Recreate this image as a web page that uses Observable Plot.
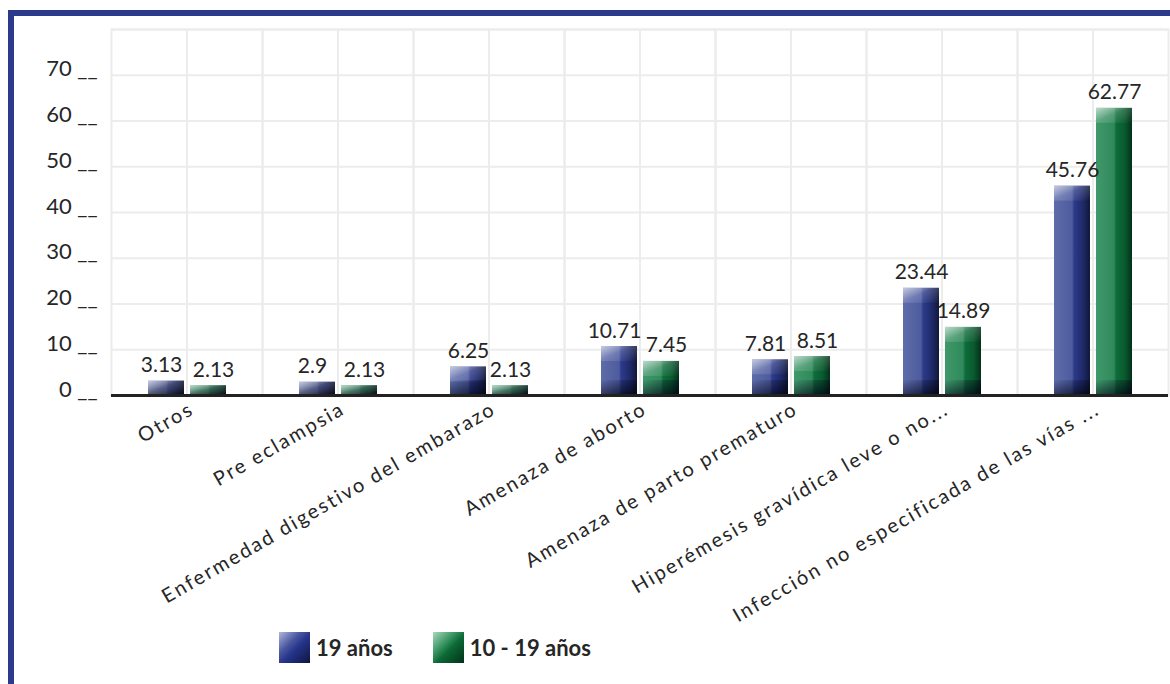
<!DOCTYPE html>
<html>
<head>
<meta charset="utf-8">
<script src="https://cdn.jsdelivr.net/npm/d3@7"></script>
<script src="https://cdn.jsdelivr.net/npm/@observablehq/plot@0.6"></script>
<style>
  html, body { margin: 0; padding: 0; background: #fff; }
  #page { position: relative; width: 1170px; height: 684px; overflow: hidden; background: #fff; font-family: Lato, sans-serif; }
  #frame { position: absolute; left: 8px; top: 10px; right: 0; bottom: 0; border-top: 6px solid #2c3a8c; border-left: 6px solid #2c3a8c; box-sizing: border-box; pointer-events: none; }
  #chart { position: absolute; left: 0; top: 0; }
  #legend { position: absolute; top: 632px; left: 279px; display: flex; align-items: center; font-family: Lato, sans-serif; font-weight: bold; font-size: 22px; color: #262626; }
  .sw { width: 31px; height: 31px; display: inline-block; margin-right: 6px; }
  .item { display: flex; align-items: center; margin-right: 40px; }
</style>
</head>
<body>
<div id="page">
  <div id="chart"></div>
  <div id="frame"></div>
  <div id="legend"></div>
</div>
<script>
const categories = [
  "Otros",
  "Pre eclampsia",
  "Enfermedad digestivo del embarazo",
  "Amenaza de aborto",
  "Amenaza de parto prematuro",
  "Hiperémesis gravídica leve o no...",
  "Infección no especificada de las vías ..."
];
const series = ["19 años", "10 - 19 años"];
const values19 = [3.13, 2.9, 6.25, 10.71, 7.81, 23.44, 45.76];
const values1019 = [2.13, 2.13, 2.13, 7.45, 8.51, 14.89, 62.77];
const yTicks = [0, 10, 20, 30, 40, 50, 60, 70];
const yGrid = [0, 10, 20, 30, 40, 50, 60, 70, 80];

const data = [];
categories.forEach((c, i) => {
  const close = Math.abs(values19[i] - values1019[i]) < 4;
  data.push({category: c, series: series[0], value: values19[i], close});
  data.push({category: c, series: series[1], value: values1019[i], close});
});

const labelOpts = {fx: "category", x: "series", y: "value", text: d => String(d.value), lineAnchor: "bottom", dy: -9, fontSize: 21, fill: "#262626"};

const svg = Plot.plot({
  width: 1170,
  height: 630,
  marginLeft: 110,
  marginRight: 2,
  marginTop: 29,
  marginBottom: 235,
  style: {fontFamily: "Lato", fontSize: "21px", color: "#262626", background: "transparent", overflow: "visible"},
  fx: {domain: categories, padding: 0, label: null, axis: null},
  x: {domain: series, axis: null, paddingInner: 0.15, paddingOuter: 0.87},
  y: {domain: [0, 80], axis: null},
  marks: [
    Plot.gridY(yGrid, {stroke: "#ececec", strokeOpacity: 1, strokeWidth: 2}),
    Plot.frame({stroke: "#ececec", strokeWidth: 2}),
    Plot.gridFx({stroke: "#ececec", strokeOpacity: 1, strokeWidth: 2}),
    Plot.axisY(yTicks, {
      tickSize: 0, tickPadding: 14, fontSize: 22, dy: -6,
      tickFormat: d => `${d} __`, label: null, fill: "#262626"
    }),
    Plot.barY(data.filter(d => d.series === series[0]), {fx: "category", x: "series", y: "value", fill: "url(#gBlue)"}),
    Plot.barY(data.filter(d => d.series === series[1]), {fx: "category", x: "series", y: "value", fill: "url(#gGreen)"}),
    Plot.ruleY([0], {stroke: "#222", strokeWidth: 3}),
    Plot.text(data.filter(d => d.series === series[0] && d.close), {...labelOpts, dx: -5}),
    Plot.text(data.filter(d => d.series === series[1] && d.close), {...labelOpts, dx: 5}),
    Plot.text(data.filter(d => !d.close), labelOpts),
    Plot.axisFx({anchor: "bottom", tickRotate: -30, tickSize: 0, tickPadding: 12, dx: 5, fontSize: 20, label: null, fill: "#262626"})
  ]
});

document.getElementById("chart").appendChild(svg);

const s = d3.select(svg);
const defs = s.insert("defs", ":first-child");
function lin(id, stops, x2 = 1, y2 = 0) {
  const g = defs.append("linearGradient").attr("id", id)
    .attr("x1", 0).attr("y1", 0).attr("x2", x2).attr("y2", y2);
  stops.forEach(([o, c, a]) => g.append("stop").attr("offset", o).attr("stop-color", c).attr("stop-opacity", a == null ? 1 : a));
}
lin("gBlue", [[0, "#5e6ca9"], [0.5, "#4e5c9f"], [0.56, "#2c3a8a"], [0.8, "#1f2a6a"], [1, "#111838"]]);
lin("gGreen", [[0, "#40996a"], [0.5, "#30895a"], [0.56, "#0d6d3a"], [0.8, "#0a5a2e"], [1, "#03301a"]]);
lin("gHi", [[0, "#ffffff", 0.65], [0.45, "#ffffff", 0.18], [1, "#ffffff", 0]], 1, 1);
lin("gLo", [[0, "#050a20", 0], [0.45, "#050a20", 0.35], [1, "#020510", 0.75]], 0.7, 1);

s.selectAll('g[fill="url(#gBlue)"] rect, g[fill="url(#gGreen)"] rect').each(function() {
  const r = d3.select(this);
  const x = +r.attr("x"), y = +r.attr("y"), w = +r.attr("width"), h = +r.attr("height");
  const cap = Math.min(15, h);
  const p = d3.select(this.parentNode);
  p.append("rect").attr("x", x).attr("y", y + h - cap).attr("width", w).attr("height", cap).attr("fill", "url(#gLo)");
  p.append("rect").attr("x", x).attr("y", y).attr("width", w).attr("height", cap).attr("fill", "url(#gHi)");
});

s.selectAll("text").filter(function() { return categories.includes(this.textContent); })
  .style("letter-spacing", "2.1px");

const legend = d3.select("#legend");
const swatches = [
  "linear-gradient(135deg, #b0b7dc 0%, #4a58a0 35%, #26348a 55%, #0e1540 100%)",
  "linear-gradient(135deg, #acd8be 0%, #3c9866 35%, #0b6a35 55%, #02301a 100%)"
];
series.forEach((name, i) => {
  const it = legend.append("div").attr("class", "item");
  it.append("span").attr("class", "sw").style("background", swatches[i]);
  it.append("span").text(name);
});
</script>
</body>
</html>
